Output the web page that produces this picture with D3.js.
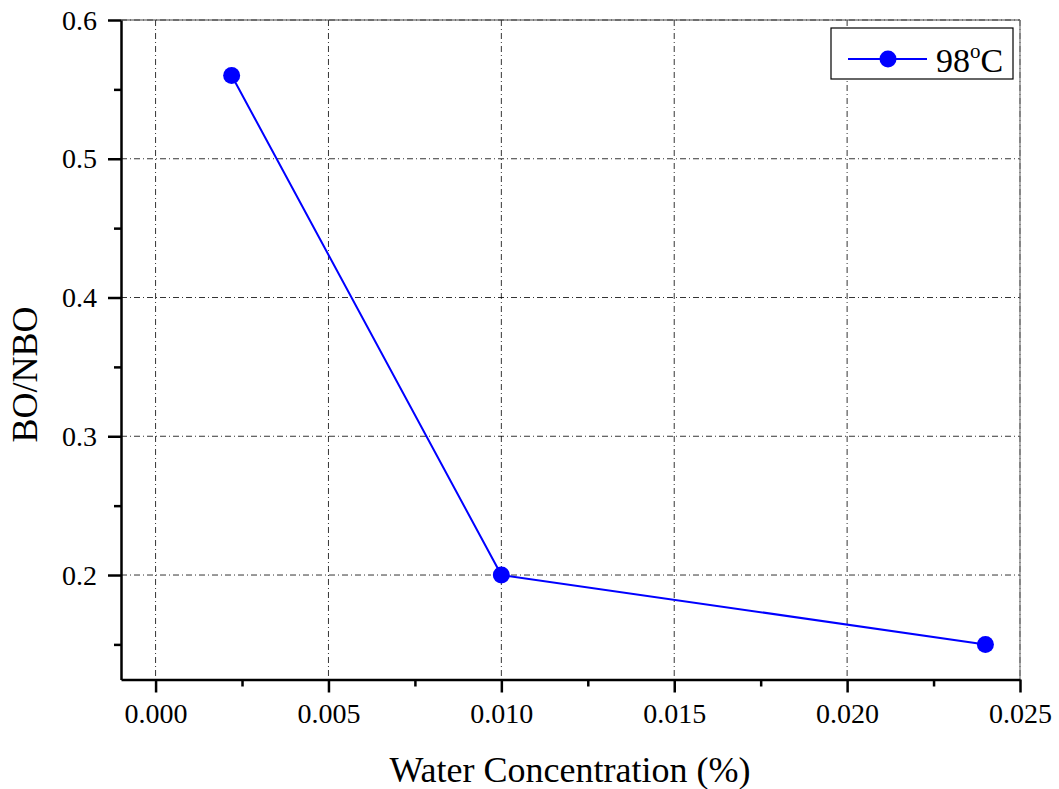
<!DOCTYPE html>
<html><head><meta charset="utf-8">
<script src="https://cdn.jsdelivr.net/npm/d3@7"></script>
<style>body{margin:0;background:#fff}svg{display:block}text{font-family:"Liberation Serif","Times New Roman",serif;fill:#000}</style>
</head><body><svg id="c" width="1059" height="789"></svg>
<script>
const waterConc = [0.0022, 0.010, 0.024];
const boNbo = [0.56, 0.20, 0.15];
const xTicks = [0.000, 0.005, 0.010, 0.015, 0.020, 0.025];
const yTicks = [0.2, 0.3, 0.4, 0.5, 0.6];
const xMinor = [0.0025, 0.0075, 0.0125, 0.0175, 0.0225];
const yMinor = [0.15, 0.25, 0.35, 0.45, 0.55];
const seriesName = "98";

const svg = d3.select("#c");
const L = 121, R = 1020, T = 20, B = 679.5;
const x = d3.scaleLinear().domain([-0.001, 0.025]).range([L, R]);
const y = d3.scaleLinear().domain([0.1247, 0.6]).range([B, T]);
const serif = '"Liberation Serif","Times New Roman",serif';

// grid
const g = svg.append("g");
g.selectAll(".gx").data(xTicks).join("line")
  .attr("x1", d => x(d)).attr("x2", d => x(d)).attr("y1", T).attr("y2", B)
  .attr("stroke", "#000").attr("stroke-width", 0.8).attr("stroke-dasharray", "6,3,1,3");
g.selectAll(".gy").data(yTicks).join("line")
  .attr("y1", d => y(d)).attr("y2", d => y(d)).attr("x1", L).attr("x2", R)
  .attr("stroke", "#000").attr("stroke-width", 0.8).attr("stroke-dasharray", "6,3,1,3");

// frame top/right
svg.append("line").attr("x1", L).attr("x2", R).attr("y1", T).attr("y2", T).attr("stroke", "#444").attr("stroke-width", 1.2);
svg.append("line").attr("x1", R).attr("x2", R).attr("y1", T).attr("y2", B).attr("stroke", "#777").attr("stroke-width", 1.2);

// axes
const xAxis = d3.axisBottom(x).tickValues(xTicks).tickFormat(d3.format(".3f")).tickSize(13).tickSizeOuter(0);
const xa = svg.append("g").attr("transform", `translate(0,${B})`).call(xAxis);
xa.attr("font-family", serif);
xa.select(".domain").attr("stroke-width", 2.5);
xa.selectAll(".tick line").attr("stroke-width", 2.5);
xa.selectAll("text").attr("font-size", 28).attr("y", 43.5).attr("dy", 0).style("font-family", serif);
const xm = svg.append("g").attr("transform", `translate(0,${B})`).call(d3.axisBottom(x).tickValues(xMinor).tickSize(7).tickFormat(""));
xm.select(".domain").remove(); xm.selectAll(".tick line").attr("stroke-width", 2.5);

const yAxis = d3.axisLeft(y).tickValues(yTicks).tickFormat(d3.format(".1f")).tickSize(13).tickSizeOuter(0);
const ya = svg.append("g").attr("transform", `translate(${L},0)`).call(yAxis);
ya.attr("font-family", serif);
ya.select(".domain").attr("stroke-width", 2.5);
ya.selectAll(".tick line").attr("stroke-width", 2.5);
ya.selectAll("text").attr("font-size", 28).attr("x", -24).attr("dy", 9).style("font-family", serif);
const ym = svg.append("g").attr("transform", `translate(${L},0)`).call(d3.axisLeft(y).tickValues(yMinor).tickSize(7).tickFormat(""));
ym.select(".domain").remove(); ym.selectAll(".tick line").attr("stroke-width", 2.5);

// titles
svg.append("text").attr("x", 570).attr("y", 782).attr("text-anchor", "middle").attr("font-size", 36).text("Water Concentration (%)");
svg.append("text").attr("transform", `translate(37,374.5) rotate(-90)`).attr("text-anchor", "middle").attr("font-size", 36).text("BO/NBO");

// data
const pts = waterConc.map((v, i) => [v, boNbo[i]]);
svg.append("path").datum(pts).attr("fill", "none").attr("stroke", "#0000ff").attr("stroke-width", 2)
  .attr("d", d3.line().x(d => x(d[0])).y(d => y(d[1])));
svg.selectAll(".pt").data(pts).join("circle").attr("cx", d => x(d[0])).attr("cy", d => y(d[1])).attr("r", 8.5).attr("fill", "#0000ff");

// legend
const lg = svg.append("g");
lg.append("rect").attr("x", 831).attr("y", 28).attr("width", 182).attr("height", 51).attr("fill", "#fff").attr("stroke", "#000").attr("stroke-width", 1.2);
lg.append("line").attr("x1", 848).attr("x2", 927).attr("y1", 59).attr("y2", 59).attr("stroke", "#0000ff").attr("stroke-width", 2);
lg.append("circle").attr("cx", 888).attr("cy", 59).attr("r", 8.5).attr("fill", "#0000ff");
const lt = lg.append("text").attr("x", 936).attr("y", 72).attr("font-size", 34);
lt.append("tspan").text(seriesName);
lt.append("tspan").attr("font-size", 21).attr("dy", -14).text("o");
lt.append("tspan").attr("dy", 14).text("C");
</script></body></html>
